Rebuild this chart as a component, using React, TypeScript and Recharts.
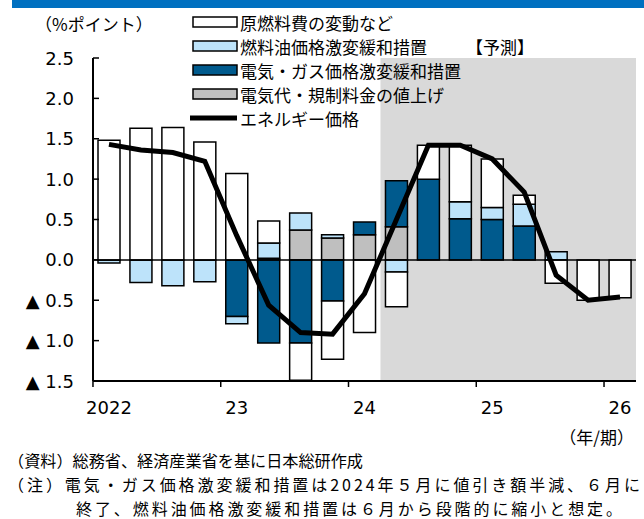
import { ComposedChart, Bar, Line, XAxis, YAxis, ReferenceArea, ReferenceLine } from 'recharts';

if (typeof document !== 'undefined') document.body.style.margin = '0';

// 四半期 (2022Q1〜2026Q1)
const quarters = [
  '22Q1', '22Q2', '22Q3', '22Q4',
  '23Q1', '23Q2', '23Q3', '23Q4',
  '24Q1', '24Q2', '24Q3', '24Q4',
  '25Q1', '25Q2', '25Q3', '25Q4',
  '26Q1',
];
const yearLabels: Record<string, string> = {
  '22Q1': '2022', '23Q1': '23', '24Q1': '24', '25Q1': '25', '26Q1': '26',
};

// 寄与度 (%ポイント)
const rawFuel = [1.48, 1.63, 1.64, 1.46, 1.07, 0.27, -0.46, -0.72, -0.9, -0.43, 0.42, 0.7, 0.6, 0.11, -0.29, -0.5, -0.47];
const fuelOil = [-0.04, -0.28, -0.32, -0.27, -0.09, 0.19, 0.21, 0.04, 0, -0.15, 0, 0.21, 0.15, 0.27, 0.1, 0, 0];
const elecGas = [0, 0, 0, 0, -0.7, -1.03, -1.03, -0.51, 0.16, 0.57, 1.0, 0.51, 0.5, 0.42, 0, 0, 0];
const elecRate = [0, 0, 0, 0, 0, 0.02, 0.37, 0.27, 0.31, 0.41, 0, 0, 0, 0, 0, 0, 0];
const energyPrice = [1.43, 1.36, 1.33, 1.22, 0.3, -0.56, -0.9, -0.92, -0.42, 0.5, 1.42, 1.42, 1.25, 0.84, -0.19, -0.5, -0.46];

const yTicks = [2.5, 2.0, 1.5, 1.0, 0.5, 0, -0.5, -1.0, -1.5];

const data = quarters.map((q, i) => ({
  q,
  rawFuel: rawFuel[i],
  fuelOil: fuelOil[i],
  elecGas: elecGas[i],
  elecRate: elecRate[i],
  energyPrice: energyPrice[i],
}));

const JP = '"Noto Sans CJK JP", sans-serif';
const NUM = '"DejaVu Sans", sans-serif';

const C_WHITE = '#FFFFFF';
const C_LIGHT = '#BDE3FA';
const C_DARK = '#005A8D';
const C_GRAY = '#BFBFBF';

const YTick = ({ x, y, payload }: any) => {
  const v = payload.value as number;
  const label = v < 0 ? `▲ ${Math.abs(v).toFixed(1)}` : v.toFixed(1);
  return (
    <g>
      <line x1={x} x2={x + 6} y1={y} y2={y} stroke="#000" strokeWidth={1.5} />
      <text x={74} y={y} textAnchor="end" dominantBaseline="central" fontFamily={NUM} fontSize={18} fill="#000">
        {label}
      </text>
    </g>
  );
};

const XTick = ({ x, y, payload }: any) => {
  const lab = yearLabels[payload.value];
  if (!lab) return null;
  return (
    <g>
      <line x1={x - 16} x2={x - 16} y1={y} y2={y + 6} stroke="#000" strokeWidth={1.5} />
      <text x={x} y={y + 26} textAnchor="middle" dominantBaseline="central" fontFamily={NUM} fontSize={18} fill="#000">
        {lab}
      </text>
    </g>
  );
};

const legendRows = [
  { label: '原燃料費の変動など', fill: C_WHITE },
  { label: '燃料油価格激変緩和措置', fill: C_LIGHT },
  { label: '電気・ガス価格激変緩和措置', fill: C_DARK },
  { label: '電気代・規制料金の値上げ', fill: C_GRAY },
];

export default function App() {
  return (
    <div style={{ position: 'relative', width: 644, height: 519, background: '#fff', overflow: 'hidden' }}>
      <ComposedChart
        width={644}
        height={519}
        data={data}
        stackOffset="sign"
        barSize={22}
        margin={{ top: 58, right: 8, bottom: 108, left: 0 }}
      >
        <ReferenceArea x1="24Q2" x2="26Q1" fill="#D9D9D9" fillOpacity={1} stroke="none" ifOverflow="visible" />
        <XAxis
          dataKey="q"
          interval={0}
          tick={<XTick />}
          tickSize={0}
          tickMargin={0}
          tickLine={false}
          axisLine={{ stroke: '#000', strokeWidth: 2 }}
          height={30}
        />
        <YAxis
          type="number"
          domain={[-1.5, 2.5]}
          ticks={yTicks}
          allowDataOverflow
          width={93}
          tick={<YTick />}
          tickSize={0}
          tickMargin={0}
          tickLine={false}
          axisLine={{ stroke: '#000', strokeWidth: 2 }}
        />
        <Bar dataKey="elecRate" stackId="a" fill={C_GRAY} stroke="#000" strokeWidth={1.5} isAnimationActive={false} />
        <Bar dataKey="elecGas" stackId="a" fill={C_DARK} stroke="#000" strokeWidth={1.5} isAnimationActive={false} />
        <Bar dataKey="fuelOil" stackId="a" fill={C_LIGHT} stroke="#000" strokeWidth={1.5} isAnimationActive={false} />
        <Bar dataKey="rawFuel" stackId="a" fill={C_WHITE} stroke="#000" strokeWidth={1.5} isAnimationActive={false} />
        <ReferenceLine y={0} stroke="#000" strokeWidth={1.5} />
        <Line
          dataKey="energyPrice"
          type="linear"
          stroke="#000"
          strokeWidth={5}
          dot={false}
          activeDot={false}
          isAnimationActive={false}
        />
      </ComposedChart>

      <svg width={644} height={519} style={{ position: 'absolute', left: 0, top: 0, pointerEvents: 'none' }}>
        <rect x={12} y={0} width={632} height={8} fill="#0070C0" />
        <text x={35} y={23} dominantBaseline="central" fontFamily={JP} fontSize={17} fill="#000">（%ポイント）</text>
        {legendRows.map((r, i) => (
          <g key={r.label}>
            <rect x={193} y={22 + i * 24 - 5} width={44} height={10} fill={r.fill} stroke="#000" strokeWidth={1.5} />
            <text x={240} y={22 + i * 24} dominantBaseline="central" fontFamily={JP} fontSize={17} fill="#000">{r.label}</text>
          </g>
        ))}
        <line x1={190} x2={237} y1={118} y2={118} stroke="#000" strokeWidth={5} />
        <text x={240} y={118} dominantBaseline="central" fontFamily={JP} fontSize={17} fill="#000">エネルギー価格</text>
        <text x={466} y={46} dominantBaseline="central" fontFamily={JP} fontSize={17} fill="#000">【予測】</text>
        <text x={634} y={436} textAnchor="end" dominantBaseline="central" fontFamily={JP} fontSize={17} fill="#000">（年/期）</text>
        <text x={8} y={460} dominantBaseline="central" fontFamily={JP} fontSize={16} fill="#000" textLength={355} lengthAdjust="spacingAndGlyphs">（資料）総務省、経済産業省を基に日本総研作成</text>
        <text x={8} y={484} dominantBaseline="central" fontFamily={JP} fontSize={16} fill="#000" textLength={632} lengthAdjust="spacing">（注）電気・ガス価格激変緩和措置は2024年５月に値引き額半減、６月に</text>
        <text x={76} y={508} dominantBaseline="central" fontFamily={JP} fontSize={16} fill="#000" textLength={546} lengthAdjust="spacing">終了、燃料油価格激変緩和措置は６月から段階的に縮小と想定。</text>
      </svg>
    </div>
  );
}
